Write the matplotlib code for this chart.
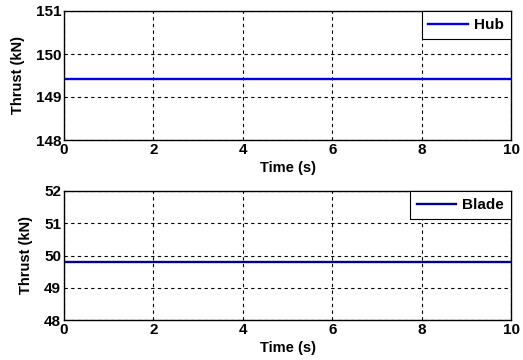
import matplotlib
matplotlib.use("Agg")
import matplotlib.pyplot as plt
import numpy as np

plt.rcParams['font.family'] = ['Liberation Sans', 'DejaVu Sans']
plt.rcParams['font.weight'] = 'bold'

time = [0, 10]
hub_thrust = [149.42, 149.42]
blade_thrust = [49.8, 49.8]
xticks = [0, 2, 4, 6, 8, 10]
hub_yticks = [148, 149, 150, 151]
blade_yticks = [48, 49, 50, 51, 52]

fig = plt.figure(figsize=(5.23, 3.6), dpi=100)
W, H = 523, 360
ax1 = fig.add_axes([64 / W, 1 - 140 / H, (511 - 64) / W, (140 - 11) / H])
ax2 = fig.add_axes([64 / W, 1 - 320 / H, (511 - 64) / W, (320 - 191) / H])

def style(ax, yticks, ylim):
    ax.set_xlim(0, 10)
    ax.set_ylim(*ylim)
    ax.set_xticks(xticks)
    ax.set_yticks(yticks)
    ax.grid(True, color='black', linestyle=(0, (3, 3)), linewidth=0.8)
    ax.tick_params(direction='in', length=0, labelsize=11, pad=2)
    for lab in ax.get_xticklabels() + ax.get_yticklabels():
        lab.set_fontweight('bold')
    for s in ax.spines.values():
        s.set_linewidth(1.0)
    ax.set_xlabel('Time (s)', fontsize=10.5, fontweight='bold', labelpad=3)
    ax.set_ylabel('Thrust (kN)', fontsize=10.5, fontweight='bold', labelpad=8)

ax1.plot(time, hub_thrust, color='#0000e6', linewidth=1.7, label='Hub')
style(ax1, hub_yticks, (148, 151))
ax2.plot(time, blade_thrust, color='#00008b', linewidth=1.7, label='Blade')
style(ax2, blade_yticks, (48, 52))

for ax in (ax1, ax2):
    leg = ax.legend(loc='upper right', fancybox=False, framealpha=1, edgecolor='black',
                    borderaxespad=0, handlelength=2.6, handletextpad=0.4, borderpad=0.45,
                    prop={'weight': 'bold', 'size': 11})
    leg.get_frame().set_linewidth(0.8)

fig.savefig('out.png', dpi=100)
